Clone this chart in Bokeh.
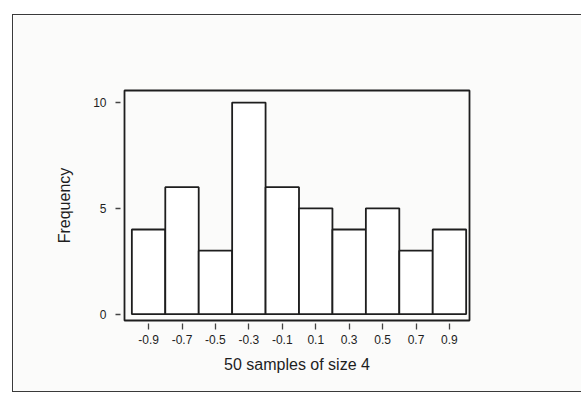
from bokeh.plotting import figure
from bokeh.models import FixedTicker, Range1d, Spacer
from bokeh.layouts import column, row
from bokeh.embed import file_html
from bokeh.resources import INLINE

# ---- data ----
bin_centers = [-0.9, -0.7, -0.5, -0.3, -0.1, 0.1, 0.3, 0.5, 0.7, 0.9]
frequencies = [4, 6, 3, 10, 6, 5, 4, 5, 3, 4]
tick_labels = ["-0.9", "-0.7", "-0.5", "-0.3", "-0.1", "0.1", "0.3", "0.5", "0.7", "0.9"]
y_ticks = [0, 5, 10]
bin_width = 0.2
x_title = "50 samples of size 4"
y_title = "Frequency"

FONT = "Liberation Sans"
INK = "#1e1e1e"
BG = "#fbfbfa"

p = figure(width=569, height=378, output_backend="svg", toolbar_location=None,
           x_range=Range1d(-1.044, 1.02), y_range=Range1d(-0.30, 10.57),
           min_border_left=111, min_border_right=113,
           min_border_top=75, min_border_bottom=73)
p.styles = {"border-top": "1.5px solid #3a3a3a",
            "border-left": "1.5px solid #3a3a3a",
            "border-bottom": "1.5px solid #3a3a3a"}

p.background_fill_color = BG
p.border_fill_color = BG
p.outline_line_color = INK
p.outline_line_width = 1.8
p.xgrid.visible = False
p.ygrid.visible = False

p.vbar(x=bin_centers, top=frequencies, width=bin_width, bottom=0,
       fill_color="white", line_color=INK, line_width=1.8)

for ax in (p.xaxis[0], p.yaxis[0]):
    ax.axis_line_color = None
    ax.minor_tick_line_color = None
    ax.major_tick_line_color = "#444444"
    ax.major_tick_line_width = 1.3
    ax.major_label_text_font = FONT
    ax.major_label_text_font_size = "12px"
    ax.major_label_text_color = INK
    ax.axis_label_text_font = FONT
    ax.axis_label_text_font_size = "16px"
    ax.axis_label_text_font_style = "normal"
    ax.axis_label_text_color = INK

p.xaxis.ticker = FixedTicker(ticks=bin_centers)
p.xaxis.major_label_overrides = {c: t for c, t in zip(bin_centers, tick_labels)}
p.xaxis.major_tick_in = -3
p.xaxis.major_tick_out = 9
p.xaxis.major_label_standoff = 5
p.xaxis.axis_label = x_title
p.xaxis.axis_label_standoff = 9

p.yaxis.ticker = FixedTicker(ticks=y_ticks)
p.yaxis.major_tick_in = -4
p.yaxis.major_tick_out = 9
p.yaxis.major_label_standoff = 9
p.yaxis.axis_label = y_title
p.yaxis.axis_label_standoff = 17

layout = column(Spacer(height=14), row(Spacer(width=12), p))
open("out.html", "w").write(file_html(layout, INLINE))
